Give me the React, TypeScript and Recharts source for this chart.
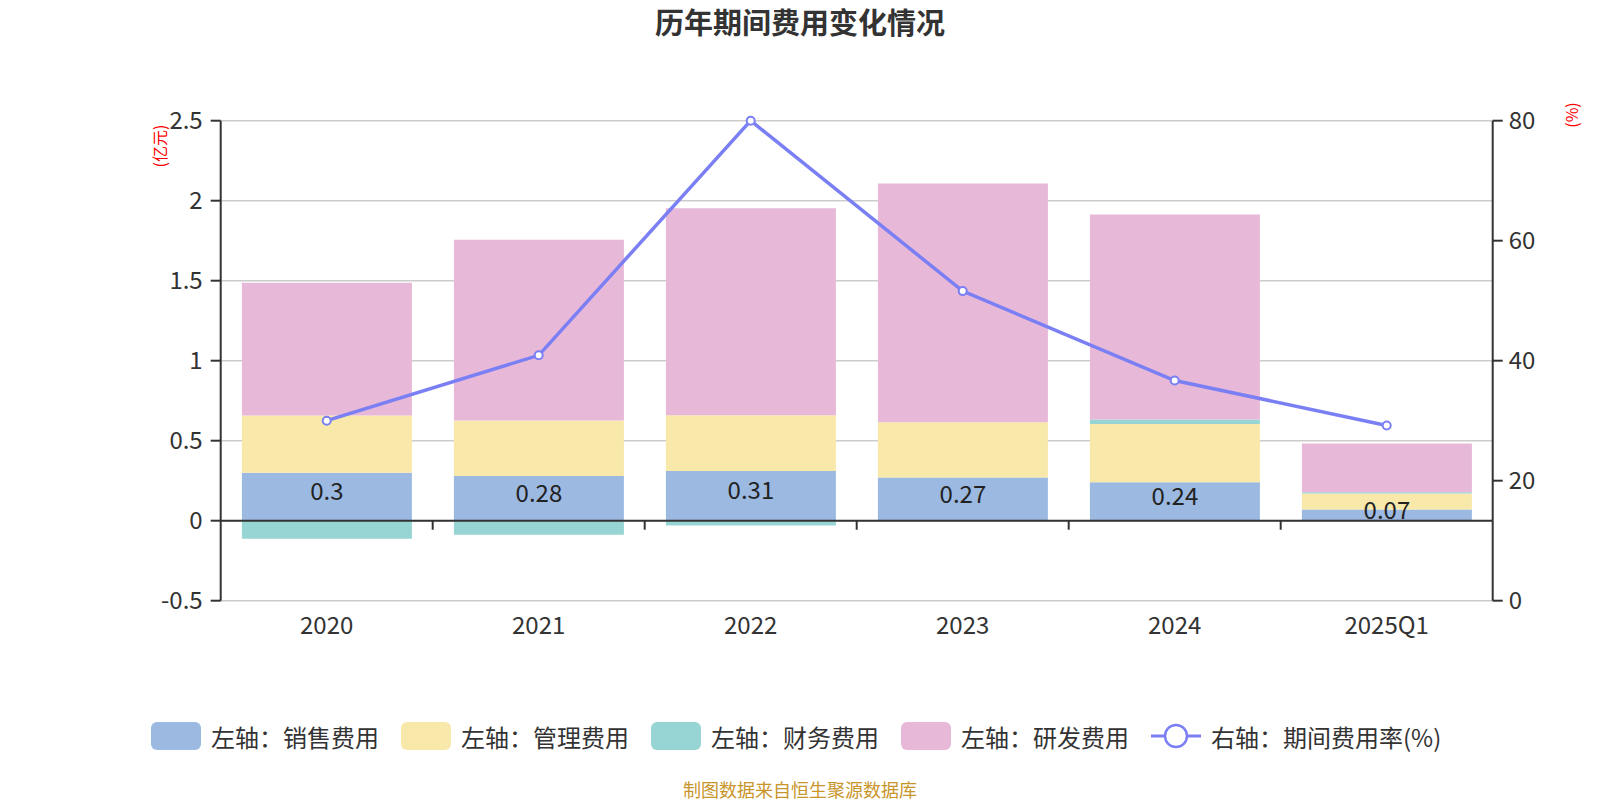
import React from "react";
import {
  Bar,
  CartesianGrid,
  ComposedChart,
  LabelList,
  Line,
  ReferenceLine,
  XAxis,
  YAxis,
} from "recharts";

const years = ["2020", "2021", "2022", "2023", "2024", "2025Q1"];
const salesCost = [0.3, 0.28, 0.31, 0.27, 0.24, 0.07];
const adminCost = [0.357, 0.347, 0.349, 0.345, 0.364, 0.1];
const financeCost = [-0.113, -0.088, -0.03, 0, 0.028, 0.008];
const rdCost = [0.83, 1.129, 1.294, 1.492, 1.281, 0.304];
const expenseRate = [30.0, 40.9, 80.0, 51.6, 36.7, 29.2];

const leftTicks = [-0.5, 0, 0.5, 1, 1.5, 2, 2.5];
const rightTicks = [0, 20, 40, 60, 80];

const data = years.map((year, i) => ({
  year,
  sales: salesCost[i],
  admin: adminCost[i],
  finance: financeCost[i],
  rd: rdCost[i],
  rate: expenseRate[i],
}));

const W = 1600;
const H = 800;
const PLOT_LEFT = 220.7;
const PLOT_RIGHT = 1492.7;
const PLOT_TOP = 120.7;
const PLOT_BOTTOM = 600.7;
const AXIS_W = 60;
const XAXIS_H = 40;
const FONT = "'Noto Sans CJK SC', 'Noto Sans', sans-serif";

const LEFT_MIN = leftTicks[0];
const LEFT_MAX = leftTicks[leftTicks.length - 1];
const zeroY =
  PLOT_TOP + ((LEFT_MAX - 0) / (LEFT_MAX - LEFT_MIN)) * (PLOT_BOTTOM - PLOT_TOP);
const band = (PLOT_RIGHT - PLOT_LEFT) / years.length;

const COLORS = {
  sales: "#9cb9e2",
  admin: "#f8e8aa",
  finance: "#97d5d5",
  rd: "#e8b8d9",
  rate: "#7a7ff4",
};

function XTick(props: any) {
  const { x, payload, index } = props;
  return (
    <g>
      <text
        x={x}
        y={PLOT_BOTTOM + 23}
        textAnchor="middle"
        dominantBaseline="central"
        fill="#333"
        fontSize={24}
        fontFamily={FONT}
      >
        {payload.value}
      </text>
      {index > 0 && (
        <line
          x1={x - band / 2}
          x2={x - band / 2}
          y1={zeroY}
          y2={zeroY + 9}
          stroke="#333"
          strokeWidth={2}
        />
      )}
    </g>
  );
}

const legendItems = [
  { name: "左轴：销售费用", color: COLORS.sales, type: "bar" },
  { name: "左轴：管理费用", color: COLORS.admin, type: "bar" },
  { name: "左轴：财务费用", color: COLORS.finance, type: "bar" },
  { name: "左轴：研发费用", color: COLORS.rd, type: "bar" },
  { name: "右轴：期间费用率(%)", color: COLORS.rate, type: "line" },
];

function LegendBox() {
  return (
    <div
      style={{
        position: "absolute",
        left: 151,
        top: 736 - 16,
        height: 32,
        display: "flex",
        alignItems: "center",
        gap: 22,
        fontFamily: FONT,
        fontSize: 24,
        color: "#333",
        whiteSpace: "nowrap",
      }}
    >
      {legendItems.map((item) => (
        <div key={item.name} style={{ display: "flex", alignItems: "center", gap: 10 }}>
          {item.type === "bar" ? (
            <div
              style={{
                width: 50,
                height: 28,
                borderRadius: 6,
                background: item.color,
              }}
            />
          ) : (
            <svg width={50} height={28}>
              <line x1={0} x2={50} y1={14} y2={14} stroke={item.color} strokeWidth={3} />
              <circle cx={25} cy={14} r={11} fill="#fff" stroke={item.color} strokeWidth={2.5} />
            </svg>
          )}
          <span>{item.name}</span>
        </div>
      ))}
    </div>
  );
}

export default function App() {
  return (
    <div
      style={{
        position: "absolute",
        left: 0,
        top: 0,
        width: W,
        height: H,
        background: "#fff",
        fontFamily: FONT,
      }}
    >
      <div
        style={{
          position: "absolute",
          left: 0,
          width: W,
          top: 0,
          textAlign: "center",
          fontSize: 29,
          fontWeight: 700,
          color: "#333",
        }}
      >
        历年期间费用变化情况
      </div>

      <div
        style={{
          position: "absolute",
          left: 159,
          top: 146,
          transform: "translate(-50%, -50%) rotate(-90deg)",
          fontSize: 16,
          color: "#ff0000",
          whiteSpace: "nowrap",
        }}
      >
        (亿元)
      </div>
      <div
        style={{
          position: "absolute",
          left: 1571,
          top: 115,
          transform: "translate(-50%, -50%) rotate(-90deg)",
          fontSize: 16,
          color: "#ff0000",
          whiteSpace: "nowrap",
        }}
      >
        (%)
      </div>

      <ComposedChart
        width={W}
        height={H}
        data={data}
        stackOffset="sign"
        barCategoryGap="10%"
        margin={{
          top: PLOT_TOP,
          bottom: H - PLOT_BOTTOM - XAXIS_H,
          left: PLOT_LEFT - AXIS_W,
          right: W - PLOT_RIGHT - AXIS_W,
        }}
        style={{ position: "absolute", left: 0, top: 0 }}
      >
        <CartesianGrid vertical={false} stroke="#cccccc" strokeWidth={1.5} yAxisId="left" />
        <XAxis
          dataKey="year"
          height={XAXIS_H}
          axisLine={false}
          tickLine={false}
          tick={<XTick />}
          interval={0}
        />
        <YAxis
          yAxisId="left"
          width={AXIS_W}
          domain={[LEFT_MIN, LEFT_MAX]}
          ticks={leftTicks}
          interval={0}
          axisLine={{ stroke: "#333", strokeWidth: 2 }}
          tickLine={{ stroke: "#333", strokeWidth: 2 }}
          tickSize={10}
          tickMargin={8}
          tick={{ fill: "#333", fontSize: 24, fontFamily: FONT }}
        />
        <YAxis
          yAxisId="right"
          orientation="right"
          width={AXIS_W}
          domain={[0, 80]}
          ticks={rightTicks}
          interval={0}
          axisLine={{ stroke: "#333", strokeWidth: 2 }}
          tickLine={{ stroke: "#333", strokeWidth: 2 }}
          tickSize={10}
          tickMargin={6}
          tick={{ fill: "#333", fontSize: 24, fontFamily: FONT }}
        />
        <Bar yAxisId="left" dataKey="sales" stackId="a" fill={COLORS.sales} isAnimationActive={false}>
          <LabelList
            dataKey="sales"
            position="center"
            fill="#222"
            fontSize={24}
            fontFamily={FONT}
            dy={-5}
          />
        </Bar>
        <Bar yAxisId="left" dataKey="admin" stackId="a" fill={COLORS.admin} isAnimationActive={false} />
        <Bar yAxisId="left" dataKey="finance" stackId="a" fill={COLORS.finance} isAnimationActive={false} />
        <Bar yAxisId="left" dataKey="rd" stackId="a" fill={COLORS.rd} isAnimationActive={false} />
        <ReferenceLine yAxisId="left" y={0} stroke="#333" strokeWidth={2} />
        <Line
          yAxisId="right"
          type="linear"
          dataKey="rate"
          stroke={COLORS.rate}
          strokeWidth={3.5}
          dot={{ r: 4, fill: "#fff", stroke: COLORS.rate, strokeWidth: 2 }}
          isAnimationActive={false}
        />
      </ComposedChart>

      <LegendBox />

      <div
        style={{
          position: "absolute",
          left: 0,
          width: W,
          top: 789 - 12,
          textAlign: "center",
          fontSize: 18,
          lineHeight: "24px",
          color: "#c8952b",
        }}
      >
        制图数据来自恒生聚源数据库
      </div>
    </div>
  );
}
